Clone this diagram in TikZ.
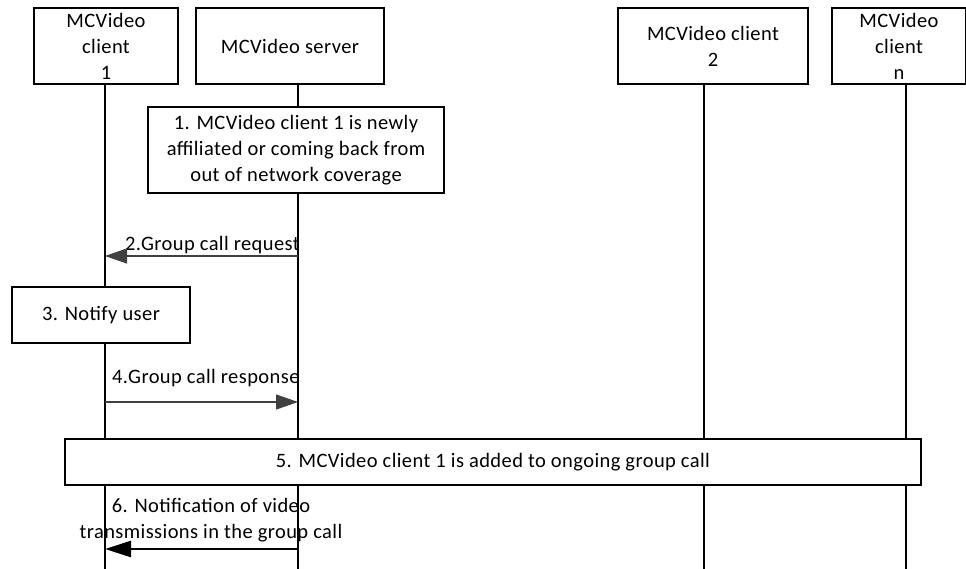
\documentclass[tikz,border=0pt]{standalone}
\usepackage{fontspec}
\setmainfont{Carlito}[LetterSpace=2]
\usetikzlibrary{%
	arrows.meta%
}
\definecolor{arrowgray}{rgb}{0.25, 0.25, 0.25}

\begin{document}
\begin{tikzpicture}[x=1pt,y=-1pt,
			font=\fontsize{20.5}{26}\selectfont,
			box/.style={draw,fill=white,line width=1.2pt,align=center,inner sep=0pt},
			life/.style={line width=1.2pt},
			msg/.style={arrowgray,line width=1.2pt,-{Triangle[length=22pt,width=15pt]}},
			bigmsg/.style={black,line width=2.6pt,-{Triangle[length=26pt,width=16pt]}}
		]
			\useasboundingbox (0,0) rectangle (966,569);
			
			% Entities
			\node[box,minimum width=144pt,minimum height=76pt] (client1) at (106,46) {MCVideo\\client\\1};
			\node[box,minimum width=188pt,minimum height=76pt] (server) at (290,46) {MCVideo server};
			\node[box,minimum width=190pt,minimum height=76pt] (client2) at (713,46) {MCVideo client\\2};
			\node[box,minimum width=134pt,minimum height=76pt] (clientn) at (899,46) {MCVideo\\client\\n};
			
			% Lifelines
			\foreach \n/\x in {client1/105,server/298,client2/704,clientn/906}
				\draw[life] (\x,0 |- \n.south) coordinate (\n top) -- (\x,569) coordinate (\n bot);
			
			% Steps
			\node[box,minimum width=296pt,minimum height=86pt] (step1) at (296,150) {1. MCVideo client 1 is newly\\affiliated or coming back from\\out of network coverage};
			
			\node[anchor=east,inner sep=0pt] (lab2) at (300,245) {2.Group call request};
			\coordinate (m2a) at (298,256);
			\coordinate (m2b) at (105,256);
			\draw[msg] (m2a) -- (m2b);
			
			\node[box,minimum width=178pt,minimum height=56pt] (step3) at (101,315) {3. Notify user};
			
			\node[anchor=west,inner sep=0pt] (lab4) at (112,378) {4.Group call response};
			\coordinate (m4a) at (105,402);
			\coordinate (m4b) at (298,402);
			\draw[msg] (m4a) -- (m4b);
			
			\node[box,minimum width=856pt,minimum height=46pt] (step5) at (493,462) {5. MCVideo client 1 is added to ongoing group call};
			
			\node[align=center,inner sep=0pt] (lab6) at (211,520) {6. Notification of video\\transmissions in the group call};
			\coordinate (m6a) at (298,549);
			\coordinate (m6b) at (105,549);
			\draw[bigmsg] (m6a) -- (m6b);
		\end{tikzpicture}
\end{document}
